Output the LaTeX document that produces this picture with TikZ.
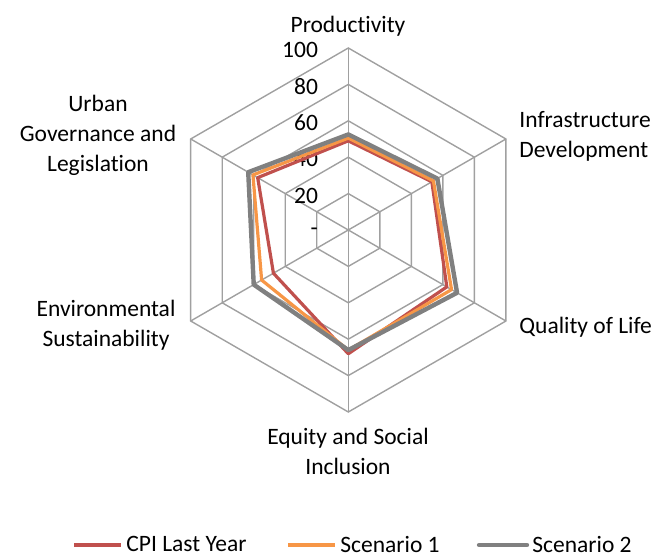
\documentclass[tikz,border=0pt]{standalone}
\usepackage{fontspec}
\setmainfont{Carlito}[Ligatures=NoCommon]
\usepackage{tikz}
\definecolor{gridgray}{HTML}{A0A0A0}
\definecolor{cpired}{HTML}{C0504D}
\definecolor{scenorange}{HTML}{F79646}
\definecolor{scengray}{HTML}{808080}

\tikzset{
  gridline/.style={gridgray, line width=0.7pt},
  cpiline/.style={cpired, line width=1.6pt, line join=round},
  scenoneline/.style={scenorange, line width=1.6pt, line join=round},
  scentwoline/.style={scengray, line width=2.2pt, line join=round}
}

\begin{document}
\begin{tikzpicture}[x=0.5pt, y=0.5pt,
    every node/.style={font=\fontsize{11.75}{15}\selectfont, inner sep=0pt}]
  \useasboundingbox (0,0) rectangle (656,555);

  \begin{scope}[shift={(348.3,325)}]
    % Web
    \foreach \lev in {1,...,5}
      \draw [gridline] (90:{36.4*\lev}) -- (30:{36.4*\lev}) -- (-30:{36.4*\lev})
        -- (-90:{36.4*\lev}) -- (-150:{36.4*\lev}) -- (150:{36.4*\lev}) -- cycle;
    \foreach \ang in {90,30,-30,-90,-150,150}
      \draw [gridline] (0,0) -- (\ang:182);

    % Scale
    \node [anchor=east] (tick0) at (-30,-2) {-};
    \foreach \lev in {1,...,5}
      \node [anchor=east] (tick\lev) at (-30,{36.4*\lev-2}) {\the\numexpr 20*\lev\relax};

    % Series
    \draw [cpiline] (90:{1.82*49}) -- (30:{1.82*53}) -- (-30:{1.82*62.5})
      -- (-90:{1.82*68}) -- (-150:{1.82*47.5}) -- (150:{1.82*57.5}) -- cycle;
    \draw [scenoneline] (90:{1.82*50.5}) -- (30:{1.82*54}) -- (-30:{1.82*65.5})
      -- (-90:{1.82*66}) -- (-150:{1.82*55}) -- (150:{1.82*60.5}) -- cycle;
    \draw [scentwoline] (90:{1.82*52.5}) -- (30:{1.82*56.5}) -- (-30:{1.82*69})
      -- (-90:{1.82*66}) -- (-150:{1.82*60}) -- (150:{1.82*63.5}) -- cycle;
  \end{scope}

  % Category labels
  \node (prod) at (348,529) {Productivity};
  \node [anchor=west, align=left] (infra) at (519,419) {Infrastructure\\Development};
  \node [anchor=west] (qol) at (519,228) {Quality of Life};
  \node [align=center] (equity) at (348,104) {Equity and Social\\Inclusion};
  \node [align=center] (env) at (106,230) {Environmental\\Sustainability};
  \node [align=center] (urban) at (98,420) {Urban\\Governance and\\Legislation};

  % Legend
  \node [anchor=west] (lgcpi) at (126,11) {CPI Last Year};
  \node [anchor=west] (lgone) at (340,11) {Scenario 1};
  \node [anchor=west] (lgtwo) at (532,11) {Scenario 2};
  \draw [cpiline] (74,10) -- (121,10);
  \draw [scenoneline] (288,10) -- (335,10);
  \draw [scentwoline, line cap=round] (479,10) -- (527,10);
\end{tikzpicture}
\end{document}
